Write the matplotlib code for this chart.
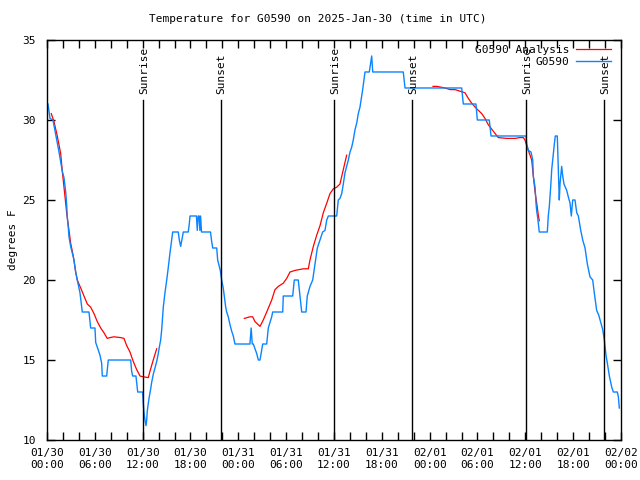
import matplotlib
matplotlib.use('Agg')
import matplotlib.pyplot as plt
from matplotlib.ticker import MultipleLocator

plt.rcParams['font.family'] = 'DejaVu Sans Mono'
plt.rcParams['font.size'] = 8

# hours since 01/30 00:00 UTC
obs_hours = [0.13, 0.38, 0.75, 1.09, 1.51, 1.92, 2.13, 2.35, 2.47, 2.55, 2.67, 2.76, 2.97, 3.17,
             3.39, 3.60, 3.80, 4.14, 4.43, 5.27, 5.48, 6.02, 6.11, 6.65, 6.86, 6.94, 7.49, 7.69,
             10.50, 10.62, 10.75, 11.16, 11.38, 12.00, 12.08, 12.17, 12.29, 12.42, 12.51, 12.58,
             12.71, 12.83, 13.01, 13.13, 13.33, 13.55, 13.76, 13.96, 14.09, 14.26, 14.39, 14.51,
             14.59, 14.80, 15.02, 15.22, 15.43, 15.64, 15.77, 16.47, 16.60, 16.77, 17.10, 17.72,
             17.85, 17.94, 18.75, 18.85, 18.97, 19.09, 19.18, 19.27, 19.38, 20.51, 20.66, 20.79,
             21.29, 21.41, 21.58, 21.74, 21.91, 22.11, 22.24, 22.42, 22.54, 22.74, 22.96, 23.17,
             23.37, 23.58, 25.46, 25.61, 25.75, 25.88, 26.31, 26.51, 26.72, 27.06, 27.56, 27.76,
             28.19, 28.31, 29.57, 29.64, 30.82, 31.02, 31.52, 31.74, 31.95, 32.49, 32.65, 32.99,
             33.33, 33.62, 33.91, 34.25, 34.58, 34.87, 35.09, 35.29, 36.34, 36.54, 36.75, 36.97,
             37.17, 37.38, 37.59, 37.80, 38.01, 38.22, 38.42, 38.64, 38.85, 39.05, 39.26, 39.48,
             39.60, 39.76, 39.89, 40.43, 40.61, 40.73, 40.86, 44.69, 44.91, 52.02, 52.22, 53.81,
             53.98, 55.48, 55.70, 60.09, 60.17, 60.38, 60.71, 60.93, 61.00, 61.22, 61.34, 61.43,
             61.55, 61.75, 62.76, 62.88, 63.01, 63.18, 63.31, 63.51, 63.64, 63.76, 64.01, 64.14,
             64.26, 64.35, 64.56, 64.69, 64.85, 65.19, 65.39, 65.61, 65.77, 65.94, 66.23, 66.45,
             66.65, 66.95, 67.20, 67.49, 67.78, 68.11, 68.45, 68.65, 68.95, 69.21, 69.49, 69.71,
             69.91, 70.12, 70.29, 70.54, 70.84, 71.04, 71.54, 71.67, 71.79]
obs_temp = [31.0, 30.1, 30.0, 29.1, 28.0, 26.8, 26.4, 25.5, 24.7, 23.9, 23.3, 22.7, 22.1, 21.7,
            21.25, 20.5, 20.0, 19.2, 18.0, 18.0, 17.0, 17.0, 16.1, 15.3, 14.8, 14.0, 14.0, 15.0,
            15.0, 14.3, 14.0, 14.0, 13.0, 13.0, 12.3, 11.7, 11.25, 10.9, 11.25, 11.8,
            12.3, 12.7, 13.2, 13.6, 14.1, 14.5, 14.9, 15.4, 15.8, 16.25, 16.9, 17.7,
            18.3, 19.2, 20.0, 20.8, 21.7, 22.5, 23.0, 23.0, 22.5, 22.1, 23.0, 23.0,
            23.5, 24.0, 24.0, 23.1, 24.0, 24.0, 23.1, 24.0, 23.0, 23.0, 22.4, 22.0,
            22.0, 21.25, 20.9, 20.6, 20.0, 19.5, 19.0, 18.3, 18.0, 17.7, 17.2, 16.8,
            16.5, 16.0, 16.0, 17.0, 16.0, 16.0, 15.4, 15.0, 15.0, 16.0, 16.0, 17.0,
            17.7, 18.0, 18.0, 19.0, 19.0, 20.0, 20.0, 19.0, 18.0, 18.0, 19.0, 19.6,
            20.0, 21.0, 22.0, 22.5, 23.0, 23.1, 23.75, 24.0, 24.0, 25.0, 25.1, 25.4,
            26.0, 26.7, 27.1, 27.5, 28.0, 28.3, 28.75, 29.4, 29.8, 30.4, 30.8, 31.5,
            31.9, 32.5, 33.0, 33.0, 33.6, 34.0, 33.0, 33.0, 32.0, 32.0, 31.0, 31.0,
            30.0, 30.0, 29.0, 29.0, 28.5, 28.1, 28.0, 27.5, 26.5, 25.8, 24.8, 24.3,
            23.9, 23.0, 23.0, 24.0, 24.6, 25.8, 26.9, 27.9, 28.5, 29.0, 29.0, 26.9,
            25.0, 26.0, 27.1, 26.5, 26.0, 25.6, 25.2, 24.8, 24.0, 25.0, 25.0, 24.2,
            24.0, 23.1, 22.5, 22.0, 21.0, 20.2, 20.0, 19.2, 18.1, 17.8, 17.3, 16.9,
            16.25, 15.3, 14.8, 14.0, 13.3, 13.0, 13.0, 12.7, 12.0]

# analysis comes in three separate runs
ana_hours_1 = [0.54, 0.88, 1.29, 1.72, 1.92, 2.22, 2.47, 2.76, 2.97, 3.30, 3.60, 3.80, 4.23, 4.64,
               5.06, 5.48, 5.90, 6.31, 6.74, 7.15, 7.56, 7.90, 8.40, 9.25, 9.66, 10.00, 10.41,
               10.83, 11.25, 11.67, 12.08, 12.71, 12.92, 13.33, 13.76]
ana_temp_1 = [30.4, 29.9, 29.0, 27.9, 26.8, 25.4, 24.2, 23.1, 22.3, 21.5, 20.5, 20.0, 19.5, 19.0,
              18.5, 18.3, 17.9, 17.4, 17.0, 16.7, 16.35, 16.4, 16.45, 16.4, 16.35, 15.9, 15.5,
              14.9, 14.4, 14.0, 13.95, 13.9, 14.3, 15.0, 15.7]
ana_hours_2 = [24.75, 25.46, 25.80, 26.09, 26.72, 27.13, 27.56, 28.19, 28.60, 29.01, 29.64, 30.07,
               30.48, 31.11, 32.15, 32.78, 32.99, 33.41, 33.83, 34.25, 34.66, 35.09, 35.50, 35.92,
               36.34, 36.75, 37.17, 37.59]
ana_temp_2 = [17.6, 17.7, 17.7, 17.4, 17.1, 17.5, 18.0, 18.75, 19.4, 19.6, 19.8, 20.1,
              20.5, 20.6, 20.7, 20.7, 21.25, 22.1, 22.8, 23.4, 24.2, 24.8, 25.4, 25.7,
              25.8, 26.0, 26.9, 27.8]
ana_hours_3 = [48.42, 48.92, 49.93, 50.55, 51.18, 51.81, 52.43, 52.85, 53.27, 53.90, 54.53, 54.94,
               55.36, 55.98, 56.61, 57.67, 58.71, 59.33, 59.75, 59.96, 60.17, 60.38, 60.80, 61.00,
               61.22, 61.43, 61.63, 61.75]
ana_temp_3 = [32.1, 32.1, 32.0, 31.9, 31.9, 31.8, 31.7, 31.35, 31.05, 30.7, 30.4, 30.1,
              29.7, 29.3, 28.9, 28.85, 28.85, 28.9, 28.9, 28.75, 28.4, 28.1, 27.5, 26.5,
              25.5, 24.8, 24.05, 23.7]

sun_hours = [12.06, 21.77, 36.04, 45.83, 60.09, 69.91]
sun_labels = ['Sunrise', 'Sunset', 'Sunrise', 'Sunset', 'Sunrise', 'Sunset']

tick_hours = [0, 6, 12, 18, 24, 30, 36, 42, 48, 54, 60, 66, 72]
tick_labels = ['01/30\n00:00', '01/30\n06:00', '01/30\n12:00', '01/30\n18:00',
               '01/31\n00:00', '01/31\n06:00', '01/31\n12:00', '01/31\n18:00',
               '02/01\n00:00', '02/01\n06:00', '02/01\n12:00', '02/01\n18:00',
               '02/02\n00:00']

fig = plt.figure(figsize=(6.4, 4.8), dpi=100)
ax = fig.add_axes([0.0734, 0.0833, 0.8969, 0.8334])

red = '#ff0000'
blue = '#0a84ff'
ax.plot(ana_hours_1, ana_temp_1, color=red, lw=0.9, label='G0590 Analysis')
ax.plot(ana_hours_2, ana_temp_2, color=red, lw=0.9)
ax.plot(ana_hours_3, ana_temp_3, color=red, lw=0.9)
ax.plot(obs_hours, obs_temp, color=blue, lw=1.0, label='G0590')

for h, lab in zip(sun_hours, sun_labels):
    ax.plot([h, h], [10, 31.25], color='black', lw=1.0)
    ax.text(h + 0.15, 31.6, lab, rotation=90, ha='center', va='bottom')

ax.set_xlim(0, 72)
ax.set_ylim(10, 35)
ax.set_xticks(tick_hours)
ax.set_xticklabels(tick_labels)
ax.xaxis.set_minor_locator(MultipleLocator(2))
ax.set_yticks([10, 15, 20, 25, 30, 35])
ax.tick_params(which='both', direction='in', top=True, right=True, length=6, width=1)
ax.tick_params(axis='x', pad=6)
ax.tick_params(axis='y', pad=8)
for s in ax.spines.values():
    s.set_linewidth(1.0)

ax.set_ylabel('degrees F', labelpad=3)
fig.text(0.497, 0.96, 'Temperature for G0590 on 2025-Jan-30 (time in UTC)',
         ha='center', va='center', fontsize=8)

ax.legend(loc='upper right', bbox_to_anchor=(0.995, 1.005), frameon=False, markerfirst=False,
          handlelength=3.2, handletextpad=0.6, labelspacing=0.2, borderaxespad=0.2)

fig.savefig('out.png', dpi=100)
